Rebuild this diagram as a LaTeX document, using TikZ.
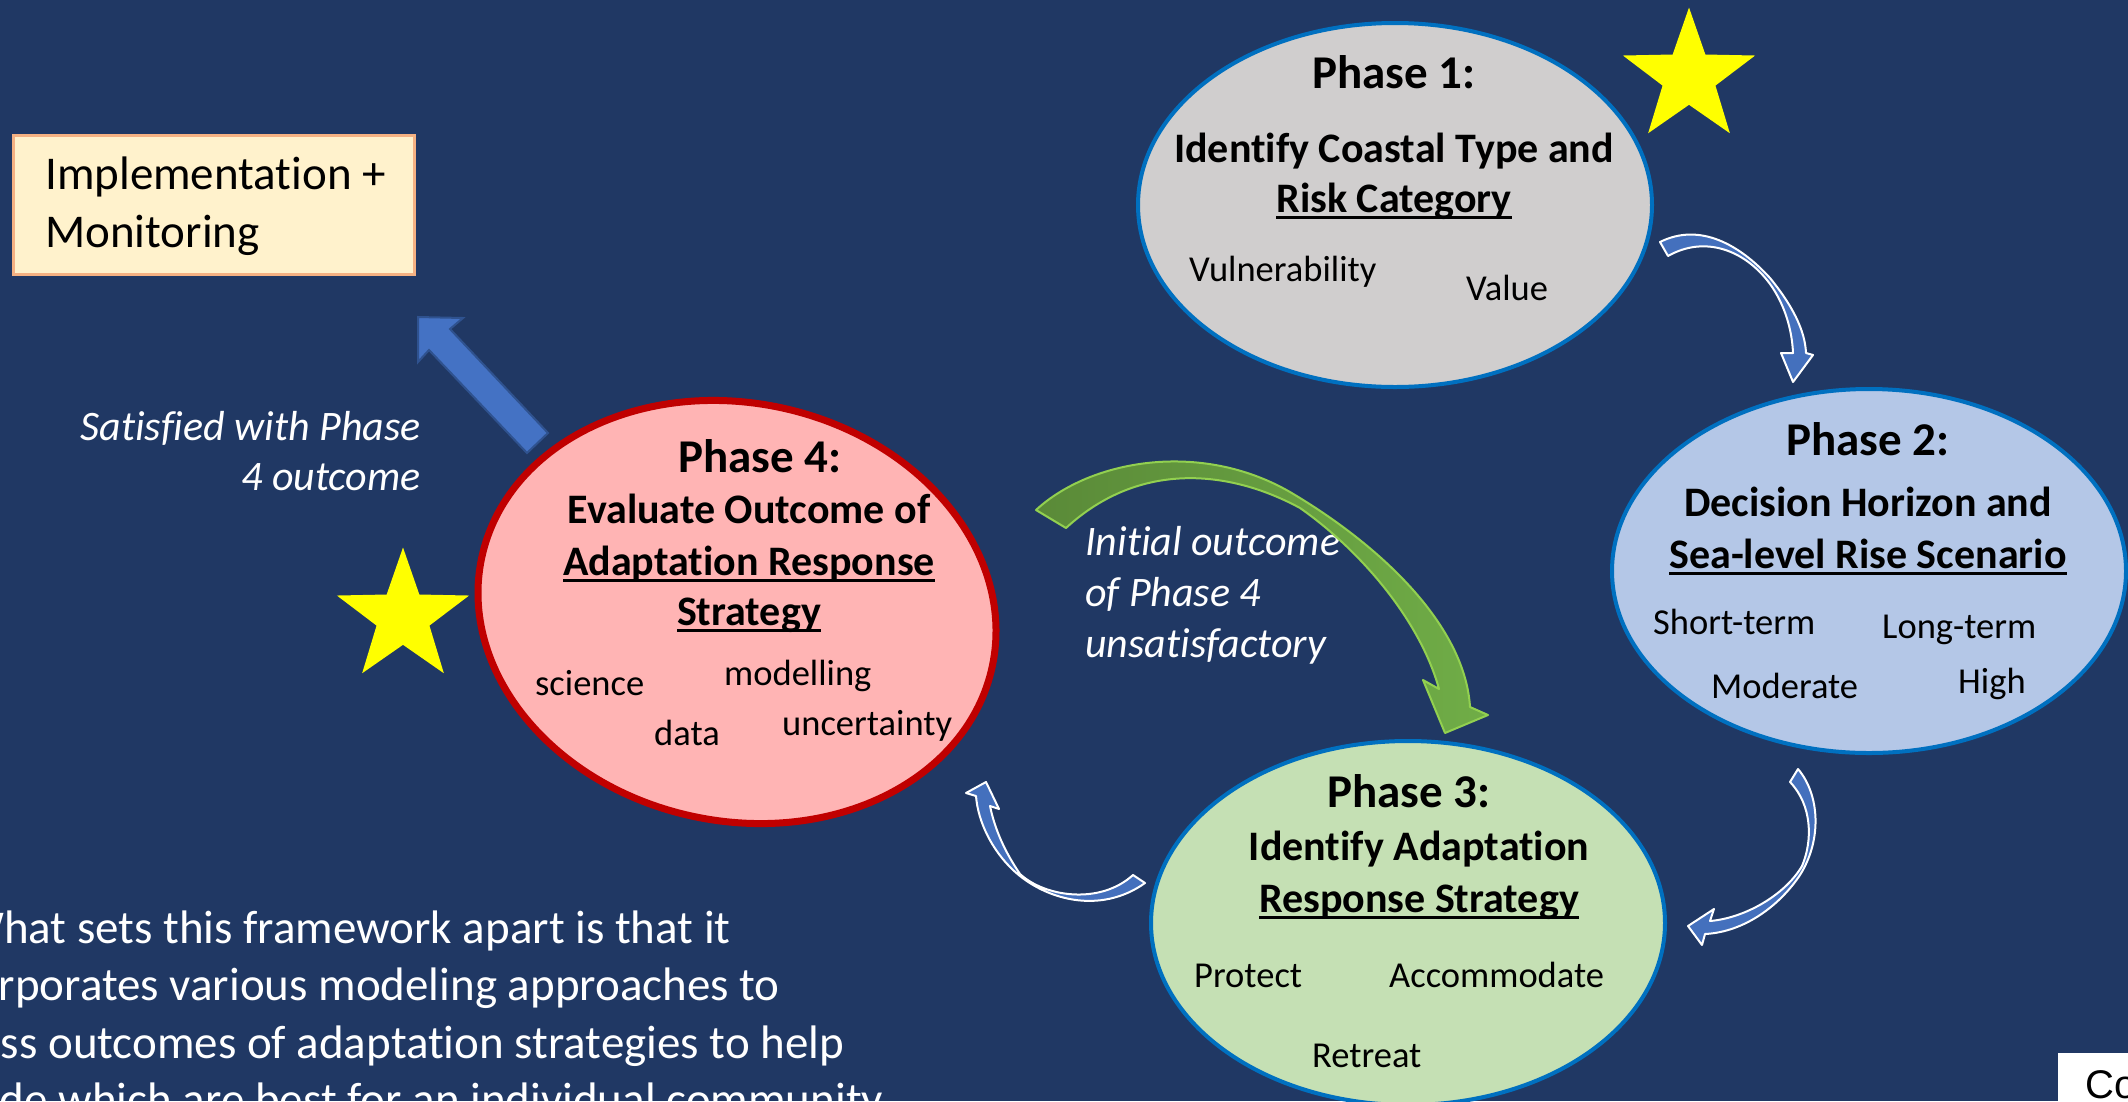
\documentclass[tikz,border=0pt]{standalone}
\usepackage{fontspec}
\setmainfont{Carlito}[Ligatures={NoCommon}]
\newfontfamily\cofont{Liberation Sans}
\usetikzlibrary{shapes.geometric}
\definecolor{bgc}{HTML}{203864}
\definecolor{edgeblue}{HTML}{0070C0}
\definecolor{pone}{HTML}{D0CECE}
\definecolor{ptwo}{HTML}{B4C7E7}
\definecolor{pthree}{HTML}{C5E0B4}
\definecolor{pfour}{HTML}{FFB4B4}
\definecolor{pfouredge}{HTML}{C00000}
\definecolor{boxfill}{HTML}{FFF2CC}
\definecolor{boxedge}{HTML}{F4B183}
\definecolor{arrowblue}{HTML}{4472C4}
\definecolor{arrowedge}{HTML}{2F528F}
\definecolor{curvblue}{HTML}{4470BD}
\definecolor{grdark}{HTML}{5A8A38}
\definecolor{grlight}{HTML}{70AD47}
\definecolor{grline}{HTML}{92D050}
\definecolor{staryellow}{HTML}{FFFF00}
\newcommand\ulx[1]{\setbox0\hbox{#1}\rlap{\rule[-0.175em]{\wd0}{0.07em}}\box0}
\begin{document}
\begin{tikzpicture}[x=1pt,y=-1pt,
  phase/.style={ellipse, minimum width=514pt, minimum height=364pt, inner sep=0pt, line width=4pt, draw=edgeblue},
  ttl/.style={anchor=base, inner sep=0pt, font=\bfseries\fontsize{47}{56}\selectfont},
  sub/.style={anchor=base, inner sep=0pt, font=\bfseries\fontsize{42}{50}\selectfont},
  wrd/.style={anchor=base west, inner sep=0pt, font=\fontsize{36.5}{44}\selectfont},
  lbl/.style={inner sep=0pt, text=white, font=\itshape\fontsize{42}{50}\selectfont},
  para/.style={anchor=base west, inner sep=0pt, text=white, font=\fontsize{47}{57}\selectfont},
  curv/.style={fill=curvblue, draw=white, line width=2pt, line join=round},
  starry/.style={star, star points=5, star point ratio=2.5, minimum size=139pt, inner sep=0pt, fill=staryellow}
]
\useasboundingbox (0,0) rectangle (2128,1101);
\clip (0,0) rectangle (2128,1101);
\fill[bgc] (0,0) rectangle (2128,1101);

% ellipses
\node[phase, fill=pone] (p1) at (1395,205) {};
\node[phase, fill=ptwo] (p2) at (1869,571) {};
\node[phase, fill=pthree] (p3) at (1408,923) {};
\node[ellipse, rotate=-12, minimum width=522pt, minimum height=418pt, inner sep=0pt, line width=7pt, draw=pfouredge, fill=pfour] (p4) at (737,612) {};

% stars
\node[starry] (star1) at (1689,77) {};
\node[starry] (star2) at (403,617) {};

% implementation box
\node[draw=boxedge, fill=boxfill, line width=3pt, minimum width=401pt, minimum height=139pt, inner sep=0pt, anchor=north west] (impl) at (11.5,133.5) {};
\node[para, text=black] (impl1) at (45,189) {Implementation +};
\node[para, text=black] (impl2) at (45,247) {Monitoring};

% Phase 1 text
\node[ttl] (p1t) at (1394,88) {Phase 1:};
\node[sub] (p1a) at (1394,162) {Identify Coastal Type and};
\node[sub] (p1b) at (1394,212) {\ulx{Risk Category}};
\node[wrd] (p1w1) at (1189,281) {Vulnerability};
\node[wrd] (p1w2) at (1466,300) {Value};

% Phase 2 text
\node[ttl] (p2t) at (1868,455) {Phase 2:};
\node[sub] (p2a) at (1868,516) {Decision Horizon and};
\node[sub] (p2b) at (1868,568) {\ulx{Sea-level Rise Scenario}};
\node[wrd] (p2w1) at (1653,634) {Short-term};
\node[wrd] (p2w2) at (1882,638) {Long-term};
\node[wrd] (p2w3) at (1711,698) {Moderate};
\node[wrd] (p2w4) at (1958,693) {High};

% Phase 3 text
\node[ttl] (p3t) at (1409,807) {Phase 3:};
\node[sub] (p3a) at (1419,860) {Identify Adaptation};
\node[sub] (p3b) at (1419,912) {\ulx{Response Strategy}};
\node[wrd] (p3w1) at (1194,987) {Protect};
\node[wrd] (p3w2) at (1389,987) {Accommodate};
\node[wrd] (p3w3) at (1312,1067) {Retreat};

% Phase 4 text
\node[ttl] (p4t) at (760,472) {Phase 4:};
\node[sub] (p4a) at (749,523) {Evaluate Outcome of};
\node[sub] (p4b) at (749,575) {\ulx{Adaptation Response}};
\node[sub] (p4c) at (749,625) {\ulx{Strategy}};
\node[wrd] (p4w1) at (535,695) {science};
\node[wrd] (p4w2) at (724,685) {modelling};
\node[wrd] (p4w3) at (654,745) {data};
\node[wrd] (p4w4) at (782,735) {uncertainty};

% italic labels
\node[lbl, anchor=base east] (sat1) at (421,440) {Satisfied with Phase};
\node[lbl, anchor=base east] (sat2) at (421,490) {4 outcome};
\node[lbl, anchor=base west] (ini1) at (1085,555) {Initial outcome};
\node[lbl, anchor=base west] (ini2) at (1085,606) {of Phase 4};
\node[lbl, anchor=base west] (ini3) at (1085,657) {unsatisfactory};

% paragraph at bottom left
\node[para] (par1) at (-38,943) {What sets this framework apart is that it};
\node[para] (par2) at (-81,1000) {incorporates various modeling approaches to};
\node[para] (par3) at (-82,1058) {assess outcomes of adaptation strategies to help};
\node[para] (par4) at (-79,1115) {decide which are best for an individual community};

% Co box
\node[fill=white, anchor=north west, minimum width=90pt, minimum height=60pt, inner sep=0pt] (cobox) at (2058,1053) {};
\node[anchor=base west, inner sep=0pt, font=\cofont\fontsize{40}{48}\selectfont] (co) at (2085,1098) {Co};

% straight block arrow Phase 4 -> Implementation
\filldraw[fill=arrowblue, draw=arrowedge, line width=2pt, line join=miter]
  (418,317) -- (463,318) -- (450,329) -- (548,433) -- (527,453) -- (429,350) -- (418,362) -- cycle;

% curved arrow Phase 1 -> Phase 2
\filldraw[curv] (1660,242) .. controls (1700,222) and (1740,245) .. (1770,278)
  .. controls (1792,305) and (1805,330) .. (1806,353)
  -- (1813,355) -- (1793,382) -- (1781,353) -- (1793,353)
  .. controls (1792,330) and (1785,305) .. (1770,284)
  .. controls (1745,250) and (1705,235) .. (1668,256) -- cycle;

% curved arrow Phase 2 -> Phase 3
\filldraw[curv] (1798,769) .. controls (1820,795) and (1822,840) .. (1800,875)
  .. controls (1780,905) and (1745,932) .. (1705,934)
  -- (1702,945) -- (1688,926) -- (1714,909) -- (1710,921)
  .. controls (1745,918) and (1785,895) .. (1802,866)
  .. controls (1813,840) and (1812,805) .. (1790,782) -- cycle;

% curved arrow Phase 3 -> Phase 4
\filldraw[curv] (1145,883) .. controls (1100,915) and (1045,900) .. (1013,870)
  .. controls (992,850) and (978,822) .. (976,796)
  -- (966,793) -- (986,782) -- (999,809) -- (990,806)
  .. controls (995,830) and (1005,852) .. (1020,874)
  .. controls (1045,897) and (1100,905) .. (1133,875) -- cycle;

% green arrow Phase 4 -> Phase 3
\shadedraw[left color=grdark, right color=grlight, draw=grline, line width=2pt, line join=round]
  (1036,510) .. controls (1090,460) and (1200,440) .. (1290,492)
  .. controls (1380,545) and (1465,625) .. (1470,707)
  -- (1488,715) -- (1445,733) -- (1423,680) -- (1439,689)
  .. controls (1420,620) and (1360,550) .. (1300,508)
  .. controls (1230,470) and (1140,460) .. (1066,528) -- cycle;
\end{tikzpicture}
\end{document}
